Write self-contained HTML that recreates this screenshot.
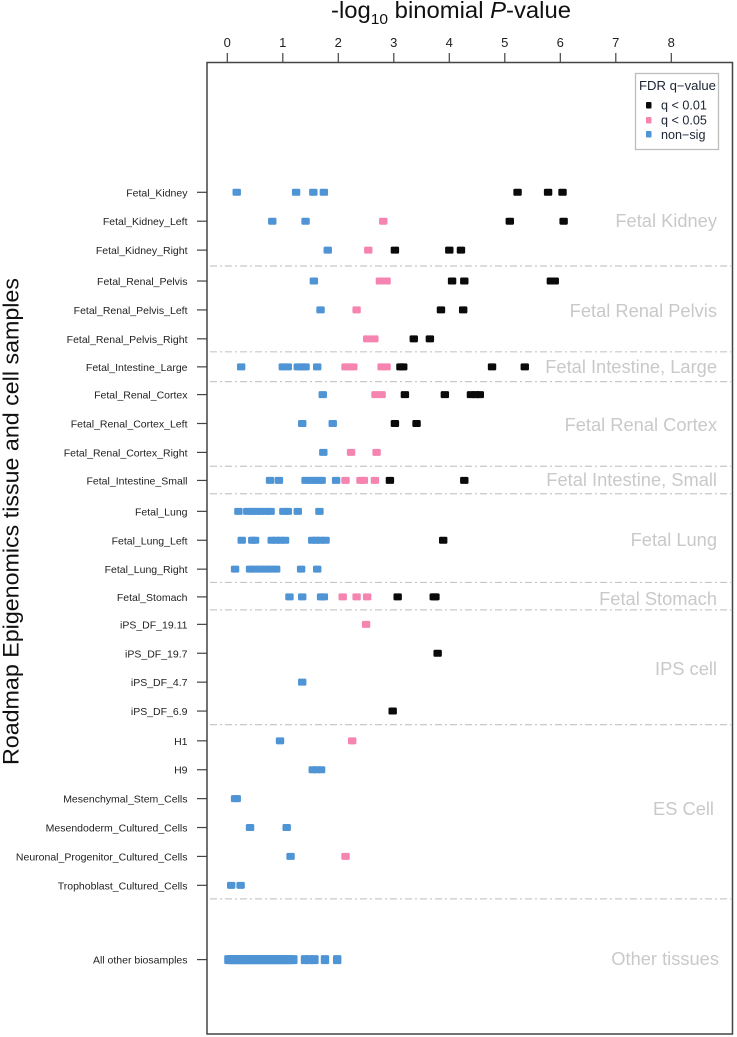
<!DOCTYPE html>
<html lang="en">
<head>
<meta charset="utf-8">
<title>Roadmap Epigenomics binomial P-values</title>
<style>
html,body{margin:0;padding:0;background:#fff;width:737px;height:1037px;overflow:hidden}
svg{display:block;filter:blur(0.35px)}
text{font-family:"Liberation Sans",sans-serif}
.group{fill:#c9c9c9;font-size:18.3px;text-anchor:end}
.leg{fill:#1c2433;font-size:12.6px}
</style>
</head>
<body>
<svg id="chart" xmlns="http://www.w3.org/2000/svg" width="737" height="1037" viewBox="0 0 737 1037">
  <text x="331" y="18" font-size="23" fill="#111" textLength="240" lengthAdjust="spacingAndGlyphs">-log<tspan font-size="15" dy="6">10</tspan><tspan dy="-6"> binomial </tspan><tspan font-style="italic">P</tspan>-value</text>
  <text transform="translate(18.5,765) rotate(-90)" font-size="22" fill="#111" textLength="487" lengthAdjust="spacingAndGlyphs">Roadmap Epigenomics tissue and cell samples</text>
  <rect x="207" y="62.5" width="525.5" height="971.5" fill="#fff" stroke="#444" stroke-width="1.5"/>
  <g id="separators" stroke="#c8c8c8" stroke-width="1.2" stroke-dasharray="7 3 2 3" fill="none"></g>
  <g id="xaxis"></g>
  <g id="yaxis"></g>
  <g>
    <text class="group" x="717" y="227">Fetal Kidney</text>
    <text class="group" x="717" y="317">Fetal Renal Pelvis</text>
    <text class="group" x="717" y="373">Fetal Intestine, Large</text>
    <text class="group" x="717" y="431">Fetal Renal Cortex</text>
    <text class="group" x="717" y="486">Fetal Intestine, Small</text>
    <text class="group" x="717" y="546">Fetal Lung</text>
    <text class="group" x="717" y="605">Fetal Stomach</text>
    <text class="group" x="717" y="675">IPS cell</text>
    <text class="group" x="714" y="815">ES Cell</text>
    <text class="group" x="719" y="965">Other tissues</text>
  </g>
  <g id="marks"></g>
  <g>
    <rect x="635.5" y="73.5" width="83" height="76" fill="#fff" stroke="#bdbdbd" stroke-width="1.3"/>
    <text class="leg" x="639" y="90" textLength="77" lengthAdjust="spacingAndGlyphs">FDR q−value</text>
    <rect x="646" y="102" width="5.5" height="6.5" rx="1" fill="#0a0a0a"/>
    <text class="leg" x="661" y="109.5">q &lt; 0.01</text>
    <rect x="646" y="117" width="5.5" height="6.5" rx="1" fill="#f585b0"/>
    <text class="leg" x="661" y="124.5">q &lt; 0.05</text>
    <rect x="646" y="131" width="5.5" height="6.5" rx="1" fill="#4f94d4"/>
    <text class="leg" x="661" y="139">non−sig</text>
  </g>
</svg>
<script>
const categories = ["Fetal_Kidney","Fetal_Kidney_Left","Fetal_Kidney_Right","Fetal_Renal_Pelvis","Fetal_Renal_Pelvis_Left","Fetal_Renal_Pelvis_Right","Fetal_Intestine_Large","Fetal_Renal_Cortex","Fetal_Renal_Cortex_Left","Fetal_Renal_Cortex_Right","Fetal_Intestine_Small","Fetal_Lung","Fetal_Lung_Left","Fetal_Lung_Right","Fetal_Stomach","iPS_DF_19.11","iPS_DF_19.7","iPS_DF_4.7","iPS_DF_6.9","H1","H9","Mesenchymal_Stem_Cells","Mesendoderm_Cultured_Cells","Neuronal_Progenitor_Cultured_Cells","Trophoblast_Cultured_Cells","All other biosamples"];
const rowSlots = [0,1,2,3.07,4.07,5.07,6.04,7,8,9,9.97,11.04,12.04,13.04,14,14.95,15.95,16.95,17.95,18.98,19.98,20.98,21.98,22.98,23.98,26.55];
const xTicks = [0,1,2,3,4,5,6,7,8];
const separatorSlots = [2.55,5.52,6.55,9.48,10.43,13.5,14.45,18.42,24.45];
const nonSigValues = [
 [0.17,1.24,1.55,1.74],[0.81,1.41],[1.81],[1.56],[1.68],[],
 [0.25,1.0,1.09,1.27,1.35,1.41,1.62],[1.72],[1.35,1.9],[1.73],
 [0.77,0.93,1.41,1.48,1.56,1.64,1.7,1.96],
 [0.2,0.36,0.44,0.52,0.6,0.69,0.78,1.01,1.09,1.27,1.66],
 [0.26,0.45,0.5,0.8,0.88,0.96,1.04,1.53,1.6,1.68,1.77],
 [0.14,0.41,0.49,0.59,0.68,0.77,0.88,1.33,1.62],
 [1.12,1.35,1.69,1.74],[],[],[1.35],[],
 [0.95],[1.54,1.61,1.69],[0.14,0.17],[0.41,1.07],[1.14],[0.07,0.24],
 [0.02,0.06,0.1,0.14,0.18,0.22,0.26,0.3,0.34,0.38,0.42,0.46,0.5,0.54,0.58,0.62,0.66,0.7,0.74,0.78,0.82,0.86,0.9,0.94,0.98,1.02,1.06,1.1,1.14,1.19,1.4,1.48,1.57,1.76,1.98]
];
const qMidValues = [
 [],[2.81],[2.54],[2.75,2.8,2.87],[2.33],[2.52,2.65],
 [2.13,2.2,2.27,2.78,2.87],[2.67,2.78],[],[2.23,2.69],
 [2.13,2.4,2.46,2.66],[],[],[],
 [2.08,2.33,2.52],[2.5],[],[],[],
 [2.25],[],[],[],[2.13],[],[]
];
const qLowValues = [
 [5.23,5.78,6.04],[5.09,6.06],[3.02,4.0,4.21],[4.05,4.27,5.83,5.9],[3.85,4.25],[3.36,3.65],
 [3.12,3.17,4.77,5.36],[3.2,3.92,4.39,4.48,4.55],[3.02,3.41],[],
 [2.93,4.27],[],[3.89],[],
 [3.07,3.72,3.75],[],[3.79],[],[2.98],
 [],[],[],[],[],[],[]
];

const svgNS = "http://www.w3.org/2000/svg";
function xScale(v){ return 227.3 + v * 55.5; }
function yScale(slot){ return 192.3 + slot * 28.9; }
function make(tag, parent, attrs){
  const el = document.createElementNS(svgNS, tag);
  for (const k in attrs) el.setAttribute(k, attrs[k]);
  parent.appendChild(el);
  return el;
}
const xAxisGroup = document.getElementById("xaxis");
xTicks.forEach(function(t){
  const tick = make("line", xAxisGroup, {x1:xScale(t), x2:xScale(t), y1:53, y2:62, stroke:"#444", "stroke-width":1.2});
  
  
  const lab = make("text", xAxisGroup, {x:xScale(t), y:47, "text-anchor":"middle", "font-size":13, fill:"#222"});
  
  
  lab.textContent = t;
});
const yAxisGroup = document.getElementById("yaxis");
categories.forEach(function(c, i){
  const y = yScale(rowSlots[i]);
  const tick = make("line", yAxisGroup, {x1:197, x2:207, y1:y, y2:y, stroke:"#444", "stroke-width":1.2});
  
  
  const lab = make("text", yAxisGroup, {x:187.5, y:y+4, "text-anchor":"end", "font-size":10.5, fill:"#222"});
  
  
  lab.textContent = c;
});
const sepGroup = document.getElementById("separators");
separatorSlots.forEach(function(s){
  const line = make("line", sepGroup, {x1:210, x2:733, y1:yScale(s), y2:yScale(s)});
  
  
});
const marks = document.getElementById("marks");
function drawSeries(values, color, name){
  values.forEach(function(row, i){
    const last = i === categories.length - 1;
    const h = last ? 9 : 7;
    row.forEach(function(v){
      const r = make("rect", marks, {x:xScale(v)-4.2, y:yScale(rowSlots[i])-h/2, width:8.4, height:h, rx:1.4, fill:color});
      
      
    });
  });
}
drawSeries(nonSigValues, "#4f94d4", "point-non-sig");
drawSeries(qMidValues, "#f585b0", "point-q-005");
drawSeries(qLowValues, "#0a0a0a", "point-q-001");
</script>
</body>
</html>
